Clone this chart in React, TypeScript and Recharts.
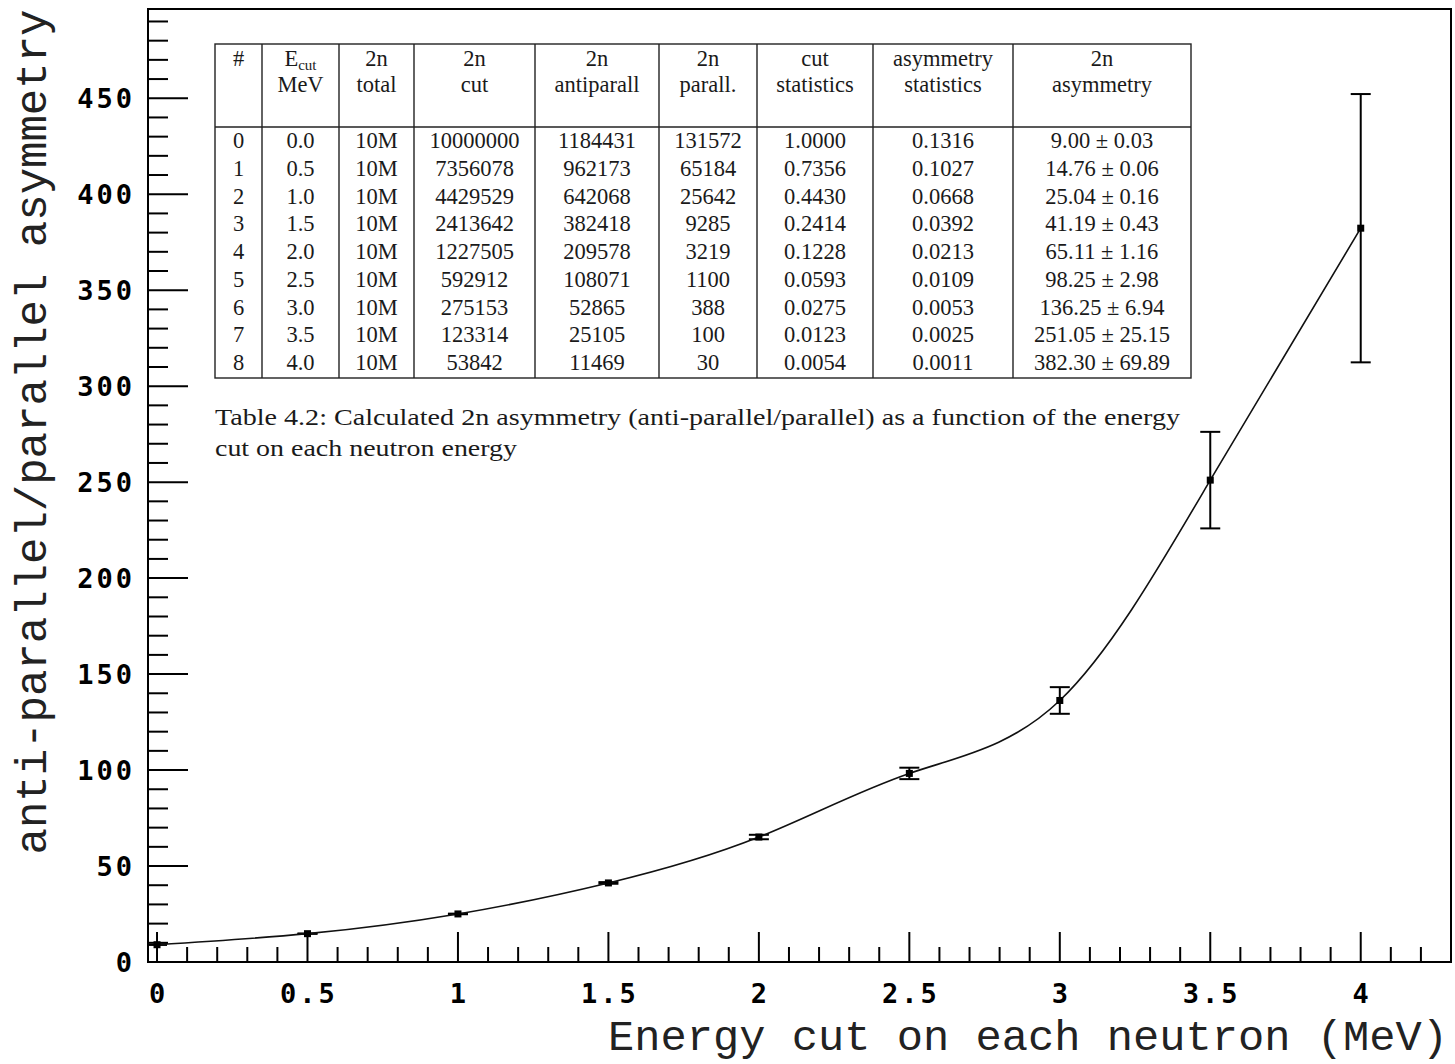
import React from 'react';
import { LineChart, Line, XAxis, YAxis, ErrorBar, ReferenceArea } from 'recharts';

// Energy cut on each neutron (MeV)
const energyCuts = [0, 0.5, 1.0, 1.5, 2.0, 2.5, 3.0, 3.5, 4.0];
// 2n asymmetry (anti-parallel / parallel) and its uncertainty
const asymmetry = [9.0, 14.76, 25.04, 41.19, 65.11, 98.25, 136.25, 251.05, 382.3];
const asymmetryErr = [0.03, 0.06, 0.16, 0.43, 1.16, 2.98, 6.94, 25.15, 69.89];

// Table columns
const rowIndex = ['0', '1', '2', '3', '4', '5', '6', '7', '8'];
const ecutLabels = ['0.0', '0.5', '1.0', '1.5', '2.0', '2.5', '3.0', '3.5', '4.0'];
const totalLabels = ['10M', '10M', '10M', '10M', '10M', '10M', '10M', '10M', '10M'];
const cutCounts = [10000000, 7356078, 4429529, 2413642, 1227505, 592912, 275153, 123314, 53842];
const antiparallelCounts = [1184431, 962173, 642068, 382418, 209578, 108071, 52865, 25105, 11469];
const parallelCounts = [131572, 65184, 25642, 9285, 3219, 1100, 388, 100, 30];
const cutStatistics = ['1.0000', '0.7356', '0.4430', '0.2414', '0.1228', '0.0593', '0.0275', '0.0123', '0.0054'];
const asymStatistics = ['0.1316', '0.1027', '0.0668', '0.0392', '0.0213', '0.0109', '0.0053', '0.0025', '0.0011'];

const captionLines = [
  'Table 4.2: Calculated 2n asymmetry (anti-parallel/parallel) as a function of the energy',
  'cut on each neutron energy',
];

// Axis ranges and tick positions
const xDomain = [-0.03, 4.3];
const yDomain = [0, 496.5];
const xTicks = Array.from({ length: 44 }, (_, i) => i / 10);
const yTicks = Array.from({ length: 50 }, (_, i) => i * 10);

const data = energyCuts.map((x, i) => ({ x, y: asymmetry[i], err: asymmetryErr[i] }));

const TICK_FONT = '"DejaVu Sans Mono", monospace';
const TITLE_FONT = '"Liberation Mono", "DejaVu Sans Mono", monospace';
const TABLE_FONT = '"Liberation Serif", "Times New Roman", serif';

const isMajorX = (v: number) => Math.abs(v * 2 - Math.round(v * 2)) < 1e-6;

const XTick = (props: any) => {
  const { x, y, payload } = props;
  const v = payload.value as number;
  const major = isMajorX(v);
  return (
    <g>
      <line x1={x} y1={y} x2={x} y2={y - (major ? 30 : 15)} stroke="#000" strokeWidth={2} />
      {major && (
        <text
          x={x + 1.5}
          y={y + 31}
          textAnchor="middle"
          dominantBaseline="central"
          fontFamily={TICK_FONT}
          fontWeight="bold"
          fontSize={27}
          letterSpacing={3}
          fill="#000"
        >
          {String(Math.round(v * 10) / 10)}
        </text>
      )}
    </g>
  );
};

const YTick = (props: any) => {
  const { x, y, payload } = props;
  const v = payload.value as number;
  const major = v % 50 === 0;
  return (
    <g>
      <line x1={x} y1={y} x2={x + (major ? 40 : 20)} y2={y} stroke="#000" strokeWidth={2} />
      {major && (
        <text
          x={x - 13}
          y={y}
          textAnchor="end"
          dominantBaseline="central"
          fontFamily={TICK_FONT}
          fontWeight="bold"
          fontSize={27}
          letterSpacing={3}
          fill="#000"
        >
          {String(v)}
        </text>
      )}
    </g>
  );
};

const Marker = (props: any) => {
  const { cx, cy, index } = props;
  if (cx == null || cy == null) return <g key={index} />;
  return <rect key={index} x={cx - 3.5} y={cy - 3.5} width={7} height={7} fill="#000" />;
};

// Column layout of the embedded table
const colEdges = [215, 262, 339, 414, 535, 659, 757, 873, 1013, 1191];
const tableTop = 44;
const headerBottom = 127;
const tableBottom = 378;
const firstRowBaseline = 148;
const rowStep = 27.75;

const colCenter = (i: number) => (colEdges[i] + colEdges[i + 1]) / 2;

const DataTable = () => {
  const rows = rowIndex.map((r, i) => [
    r,
    ecutLabels[i],
    totalLabels[i],
    String(cutCounts[i]),
    String(antiparallelCounts[i]),
    String(parallelCounts[i]),
    cutStatistics[i],
    asymStatistics[i],
    `${asymmetry[i].toFixed(2)} \u00b1 ${asymmetryErr[i].toFixed(2)}`,
  ]);
  const headerTop: (string | null)[] = ['#', null, '2n', '2n', '2n', '2n', 'cut', 'asymmetry', '2n'];
  const headerBottomRow = ['', 'MeV', 'total', 'cut', 'antiparall', 'parall.', 'statistics', 'statistics', 'asymmetry'];
  const textProps = { fontFamily: TABLE_FONT, fontSize: 22.5, fill: '#1a1a1a', textAnchor: 'middle' as const };
  return (
    <svg
      width={1455}
      height={1064}
      style={{ position: 'absolute', left: 0, top: 0, pointerEvents: 'none' }}
    >
      <rect
        x={colEdges[0]}
        y={tableTop}
        width={colEdges[colEdges.length - 1] - colEdges[0]}
        height={tableBottom - tableTop}
        fill="#fff"
        stroke="#222"
        strokeWidth={1.4}
      />
      {colEdges.slice(1, -1).map((cx) => (
        <line key={cx} x1={cx} y1={tableTop} x2={cx} y2={tableBottom} stroke="#222" strokeWidth={1.4} />
      ))}
      <line
        x1={colEdges[0]}
        y1={headerBottom}
        x2={colEdges[colEdges.length - 1]}
        y2={headerBottom}
        stroke="#222"
        strokeWidth={1.4}
      />
      {headerTop.map((h, i) =>
        h === null ? (
          <text key={`h1-${i}`} x={colCenter(i)} y={66} {...textProps}>
            E<tspan fontSize={15} dy={4}>cut</tspan>
          </text>
        ) : (
          <text key={`h1-${i}`} x={colCenter(i)} y={66} {...textProps}>
            {h}
          </text>
        )
      )}
      {headerBottomRow.map((h, i) => (
        <text key={`h2-${i}`} x={colCenter(i)} y={92} {...textProps}>
          {h}
        </text>
      ))}
      {rows.map((row, r) =>
        row.map((cell, c) => (
          <text key={`c-${r}-${c}`} x={colCenter(c)} y={firstRowBaseline + r * rowStep} {...textProps}>
            {cell}
          </text>
        ))
      )}
      <text
        x={215}
        y={425}
        fontFamily={TABLE_FONT}
        fontSize={22.5}
        fill="#1a1a1a"
        textLength={965}
        lengthAdjust="spacingAndGlyphs"
      >
        {captionLines[0]}
      </text>
      <text
        x={215}
        y={456}
        fontFamily={TABLE_FONT}
        fontSize={22.5}
        fill="#1a1a1a"
        textLength={302}
        lengthAdjust="spacingAndGlyphs"
      >
        {captionLines[1]}
      </text>
    </svg>
  );
};

export default function App() {
  return (
    <div style={{ position: 'absolute', left: 0, top: 0, width: 1455, height: 1064, background: '#fff' }}>
      <LineChart width={1455} height={1064} data={data} margin={{ top: 9, right: 4, left: 0, bottom: 0 }}>
        <XAxis
          type="number"
          dataKey="x"
          domain={xDomain}
          allowDataOverflow
          ticks={xTicks}
          interval={0}
          tickSize={0}
          tickMargin={0}
          height={102}
          tickLine={false}
          axisLine={{ stroke: '#000', strokeWidth: 2 }}
          tick={<XTick />}
        />
        <YAxis
          type="number"
          domain={yDomain}
          allowDataOverflow
          ticks={yTicks}
          interval={0}
          tickSize={0}
          tickMargin={0}
          width={148}
          tickLine={false}
          axisLine={{ stroke: '#000', strokeWidth: 2 }}
          tick={<YTick />}
        />
        <ReferenceArea
          x1={xDomain[0]}
          x2={xDomain[1]}
          y1={yDomain[0]}
          y2={yDomain[1]}
          fill="none"
          fillOpacity={0}
          stroke="#000"
          strokeWidth={2}
        />
        <Line
          type="natural"
          dataKey="y"
          stroke="#111"
          strokeWidth={1.6}
          dot={<Marker />}
          activeDot={false}
          isAnimationActive={false}
        >
          <ErrorBar dataKey="err" width={10} stroke="#000" strokeWidth={2} direction="y" />
        </Line>
        <text
          x={1448}
          y={1050}
          textAnchor="end"
          fontFamily={TITLE_FONT}
          fontSize={42}
          fill="#222"
          textLength={840}
          lengthAdjust="spacingAndGlyphs"
        >
          Energy cut on each neutron (MeV)
        </text>
        <text
          x={46}
          y={432}
          transform="rotate(-90 46 432)"
          textAnchor="middle"
          fontFamily={TITLE_FONT}
          fontSize={44}
          fill="#222"
        >
          anti-parallel/parallel asymmetry
        </text>
      </LineChart>
      <DataTable />
    </div>
  );
}
